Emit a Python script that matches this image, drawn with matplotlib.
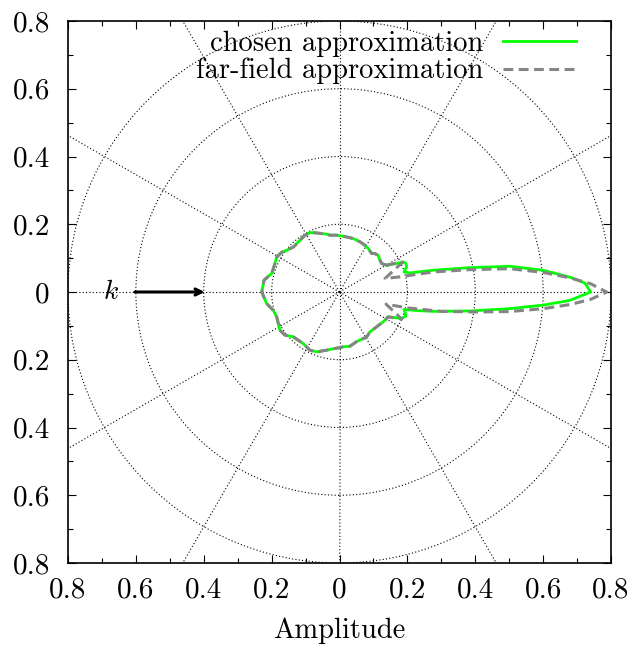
import numpy as np
import matplotlib
matplotlib.use("Agg")
import matplotlib.pyplot as plt
from matplotlib.patches import Circle
from matplotlib.ticker import MultipleLocator

plt.rcParams["font.family"] = "cmr10"
plt.rcParams["mathtext.fontset"] = "cm"
plt.rcParams["axes.unicode_minus"] = False

# ---- radiation pattern: angle (deg) vs amplitude ----
# rear part, shared by both approximations (ccw from ~30 deg round to ~-27 deg)
BODY_DEG = [29.6, 34.0, 38.2, 43.6, 47.5, 50.2, 56.6, 61.5, 67.8, 75.7,
            86.0, 93.0, 99.6, 102.6, 111.2, 116.4, 121.3, 127.4, 135.7, 141.8,
            145.7, 150.8, 156.0, 164.7, 171.0, 180.0, 189.0, 195.4, 201.7, 207.3,
            212.7, 218.4, 224.2, 234.9, 243.1, 249.1, 257.5, 260.5, 270.4, 274.0,
            281.0, 288.8, 301.1, 307.3, 316.6, 325.6, 332.9]
BODY_AMP = [0.160, 0.150, 0.152, 0.157, 0.154, 0.148, 0.154, 0.157, 0.160, 0.163,
            0.165, 0.168, 0.170, 0.175, 0.187, 0.196, 0.196, 0.192, 0.190, 0.199,
            0.207, 0.212, 0.208, 0.207, 0.225, 0.229, 0.2175, 0.2025, 0.199, 0.203,
            0.2087, 0.205, 0.190, 0.186, 0.1926, 0.189, 0.176, 0.172, 0.164, 0.162,
            0.163, 0.155, 0.155, 0.148, 0.150, 0.156, 0.161]

# forward lobe, chosen approximation
CHOSEN_DEG = [-23.1, -20.0, -17.5, -15.2, -13.5, -11.7, -8.3, -5.6, -3.7, -2.1,
              0.0, 2.1, 3.7, 6.1, 8.6, 10.6, 13.1, 15.2, 17.3, 18.4,
              20.5, 23.2, 25.3, 26.6]
CHOSEN_AMP = [0.199, 0.208, 0.203, 0.197, 0.235, 0.282, 0.388, 0.504, 0.601, 0.679,
              0.740, 0.7235, 0.680, 0.603, 0.508, 0.391, 0.2835, 0.215, 0.199, 0.203,
              0.211, 0.213, 0.208, 0.188]

# forward lobe, far-field approximation
FAR_DEG = [-23.5, -14.7, -13.2, -10.8, -8.4, -6.6, -4.7, -3.1, -1.7, 0.0,
           1.9, 3.5, 5.5, 7.8, 9.75, 12.1, 14.1, 16.6, 25.3, 26.5]
FAR_AMP = [0.200, 0.142, 0.205, 0.305, 0.404, 0.503, 0.602, 0.681, 0.740, 0.787,
           0.740, 0.681, 0.603, 0.507, 0.390, 0.282, 0.1835, 0.140, 0.205, 0.195]

GRID_R = [0.2, 0.4, 0.6, 0.8]
GRID_DEG = list(range(0, 360, 30))
TICKS = [-0.8, -0.6, -0.4, -0.2, 0.0, 0.2, 0.4, 0.6, 0.8]
TICK_LABELS = ["0.8", "0.6", "0.4", "0.2", "0", "0.2", "0.4", "0.6", "0.8"]


def closed_curve(front_deg, front_amp):
    deg = np.array(BODY_DEG + front_deg + BODY_DEG[:1])
    amp = np.array(BODY_AMP + front_amp + BODY_AMP[:1])
    rad = np.deg2rad(deg)
    return amp * np.cos(rad), amp * np.sin(rad)


fig = plt.figure(figsize=(6.34, 6.51), dpi=100)
ax = fig.add_axes([68 / 634, 88 / 651, 543 / 634, 542 / 651])
ax.set_xlim(-0.8, 0.8)
ax.set_ylim(-0.8, 0.8)

# polar grid
dot = (0, (1, 2))
for r in GRID_R:
    ax.add_patch(Circle((0, 0), r, fill=False, ec="black", lw=0.8,
                        ls=dot, zorder=1))
for a in GRID_DEG:
    t = np.deg2rad(a)
    ax.plot([0, 1.2 * np.cos(t)], [0, 1.2 * np.sin(t)], color="black",
            lw=0.8, ls=dot, zorder=1)

cx, cy = closed_curve(CHOSEN_DEG, CHOSEN_AMP)
fx, fy = closed_curve(FAR_DEG, FAR_AMP)
ax.plot(cx, cy, color="#00ff00", lw=2.0, label="chosen approximation", zorder=3)
ax.plot(fx, fy, color="#858585", lw=2.2, ls=(0, (3.2, 1.8)),
        label="far-field approximation", zorder=4)

# incident wave direction
ax.annotate("", xy=(-0.397, 0), xytext=(-0.603, 0),
            arrowprops=dict(arrowstyle="->,head_length=0.45,head_width=0.22",
                            color="black", lw=2.2, shrinkA=0, shrinkB=0),
            zorder=5)
ax.text(-0.674, 0, r"$k$", fontsize=20, ha="center", va="center", zorder=5)

ax.set_xticks(TICKS)
ax.set_xticklabels(TICK_LABELS)
ax.set_yticks(TICKS)
ax.set_yticklabels(TICK_LABELS)
ax.xaxis.set_minor_locator(MultipleLocator(0.1))
ax.yaxis.set_minor_locator(MultipleLocator(0.1))
ax.tick_params(which="both", direction="in", top=True, right=True,
               labelsize=21, width=0.8)
ax.tick_params(which="major", length=6)
ax.tick_params(which="minor", length=3.5)
ax.tick_params(axis="x", pad=10)
ax.tick_params(axis="y", pad=13)
for s in ax.spines.values():
    s.set_linewidth(1.2)

ax.set_xlabel("Amplitude", fontsize=20.5, labelpad=10)

ax.legend(loc="upper right", bbox_to_anchor=(0.9355, 0.983), frameon=False,
          markerfirst=False, fontsize=20.5, handlelength=2.55,
          handletextpad=0.7, labelspacing=0.05, borderpad=0,
          borderaxespad=0)

fig.savefig("out.png", dpi=100)
